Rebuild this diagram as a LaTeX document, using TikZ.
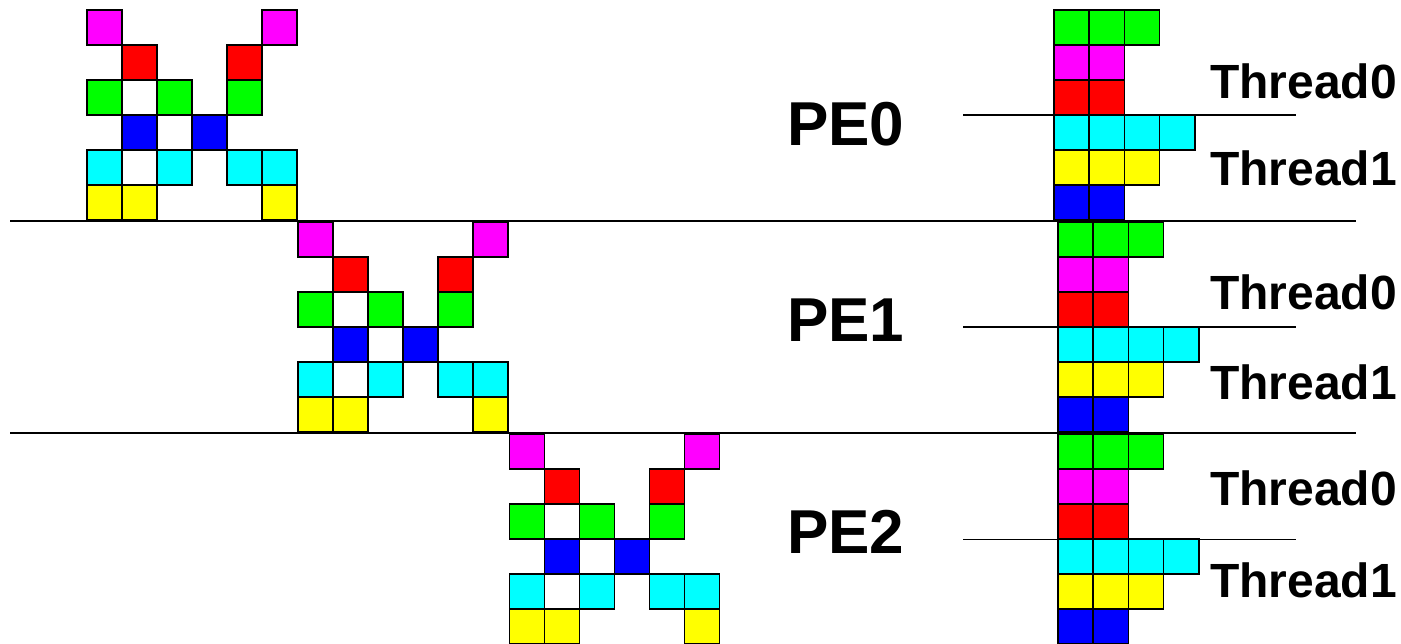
\documentclass[tikz,border=0pt]{standalone}
\usepackage{fontspec}
\setmainfont{Liberation Sans}
\definecolor{cMag}{RGB}{255,0,255}
\definecolor{cRed}{RGB}{255,0,0}
\definecolor{cGrn}{RGB}{0,255,0}
\definecolor{cBlu}{RGB}{0,0,255}
\definecolor{cCya}{RGB}{0,255,255}
\definecolor{cYel}{RGB}{255,255,0}
\tikzset{
  cellbox/.style={draw=black, line width=1.6pt},
  sepline/.style={draw=black, line width=1.4pt},
  pelabel/.style={font=\fontsize{62}{62}\selectfont\bfseries, inner sep=0pt, anchor=base west},
  thlabel/.style={font=\fontsize{48}{48}\selectfont\bfseries, inner sep=0pt, anchor=base west},
}
\newcommand{\xpattern}[2]{%
  \foreach \c/\r/\col in {0/0/cMag,5/0/cMag,1/1/cRed,4/1/cRed,0/2/cGrn,2/2/cGrn,4/2/cGrn,1/3/cBlu,3/3/cBlu,0/4/cCya,2/4/cCya,4/4/cCya,5/4/cCya,0/5/cYel,1/5/cYel,5/5/cYel}{
    \draw[cellbox, fill=\col] ({#1+35*\c},{#2+35*\r}) rectangle ++(35,35);
  }}
\newcommand{\stackpat}[2]{%
  \foreach \r/\n/\col in {0/3/cGrn,1/2/cMag,2/2/cRed,3/4/cCya,4/3/cYel,5/2/cBlu}{
    \foreach \c in {1,...,\n}{
      \draw[cellbox, fill=\col] ({#1+35.2*(\c-1)},{#2+35*\r}) rectangle ++(35.2,35);
    }
  }}
\begin{document}
\begin{tikzpicture}[x=1pt,y=-1pt]
\useasboundingbox (0,0) rectangle (1401,643);
\fill[white] (0,0) rectangle (1401,643);
% X patterns
\xpattern{87}{10}
\xpattern{298}{222}
\xpattern{509.5}{434}
% stacks
\stackpat{1054}{10}
\stackpat{1058}{222}
\stackpat{1058}{434}
% separator lines
\coordinate (s1a) at (10,221);
\coordinate (s1b) at (1356,221);
\coordinate (s2a) at (10,433);
\coordinate (s2b) at (1356,433);
\draw[sepline] (s1a) -- (s1b);
\draw[sepline] (s2a) -- (s2b);
% thread lines
\coordinate (t0a) at (963,115);
\coordinate (t0b) at (1296,115);
\coordinate (t1a) at (963,327);
\coordinate (t1b) at (1296,327);
\coordinate (t2a) at (963,539.5);
\coordinate (t2b) at (1296,539.5);
\draw[sepline] (t0a) -- (t0b);
\draw[sepline] (t1a) -- (t1b);
\draw[sepline] (t2a) -- (t2b);
% labels
\node[pelabel] (pe0) at (787,145) {PE0};
\node[pelabel] (pe1) at (787,341) {PE1};
\node[pelabel] (pe2) at (787,553) {PE2};
\node[thlabel] (th00) at (1210,98) {Thread0};
\node[thlabel] (th01) at (1210,185) {Thread1};
\node[thlabel] (th10) at (1210,309) {Thread0};
\node[thlabel] (th11) at (1210,399) {Thread1};
\node[thlabel] (th20) at (1210,505) {Thread0};
\node[thlabel] (th21) at (1210,597) {Thread1};
\end{tikzpicture}
\end{document}
